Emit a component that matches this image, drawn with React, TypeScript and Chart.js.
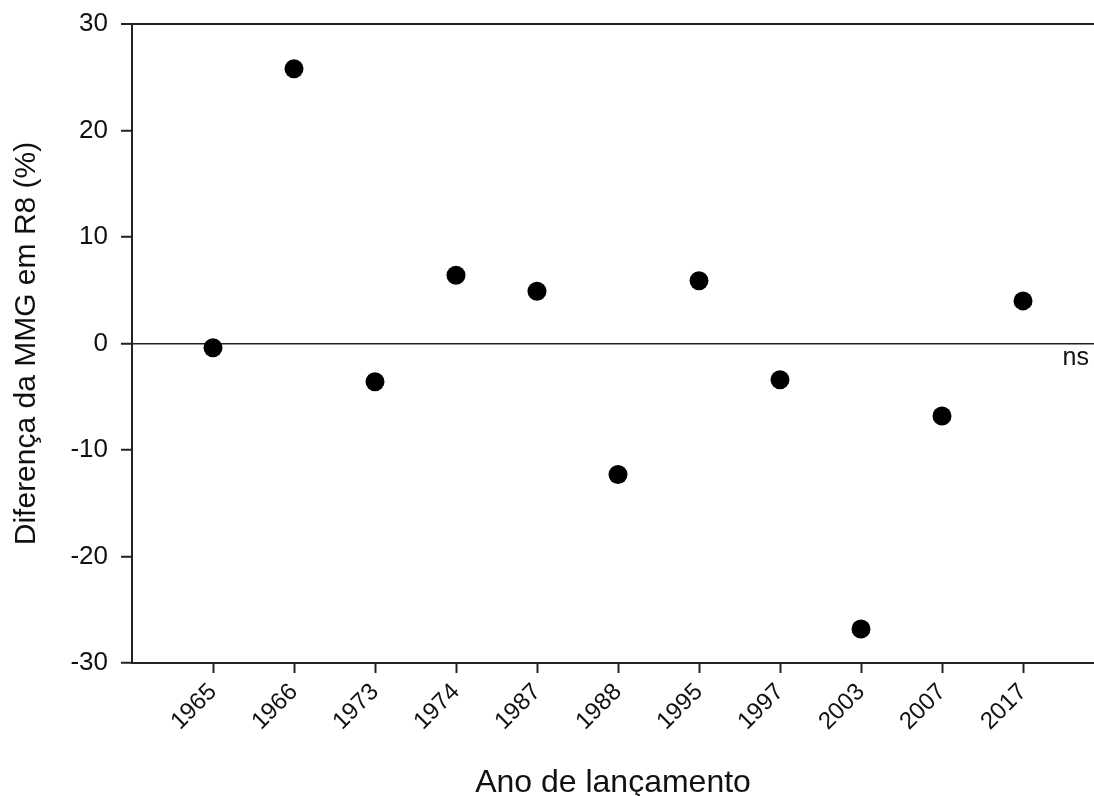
import React, { useEffect, useRef } from "react";
import { Chart, registerables } from "chart.js";

Chart.register(...registerables);

const years = ["1965", "1966", "1973", "1974", "1987", "1988", "1995", "1997", "2003", "2007", "2017"];
const diffValues = [-0.4, 25.8, -3.6, 6.4, 4.9, -12.3, 5.9, -3.4, -26.8, -6.8, 4.0];
const yTicks = [-30, -20, -10, 0, 10, 20, 30];
const xTitle = "Ano de lançamento";
const yTitle = "Diferença da MMG em R8 (%)";
const noteText = "ns";

const FONT = "'Liberation Sans', Arial, sans-serif";

export default function App() {
  const ref = useRef<HTMLCanvasElement | null>(null);

  useEffect(() => {
    if (!ref.current) return;
    const notePlugin = {
      id: "notePlugin",
      afterDraw(chart: any) {
        const { ctx, chartArea, scales } = chart;
        const y0 = scales.y.getPixelForValue(0);
        ctx.save();
        ctx.fillStyle = "#111";
        ctx.font = `25px ${FONT}`;
        ctx.textAlign = "right";
        ctx.textBaseline = "middle";
        ctx.fillText(noteText, chartArea.right - 5, y0 + 15);
        ctx.restore();
      },
    };

    const chart = new Chart(ref.current, {
      type: "scatter",
      data: {
        datasets: [
          {
            data: diffValues.map((v, i) => ({ x: i + 1, y: v })),
            backgroundColor: "#000",
            borderColor: "#000",
            borderWidth: 0,
            pointRadius: 9.5,
            pointHoverRadius: 9.5,
            clip: false,
          },
        ],
      },
      options: {
        responsive: false,
        animation: false,
        layout: { autoPadding: false, padding: { top: 24, right: 0, left: 0, bottom: 0 } },
        plugins: { legend: { display: false }, tooltip: { enabled: false } },
        scales: {
          x: {
            type: "linear",
            min: 0,
            max: (1094 - 132) / 81,
            afterBuildTicks: (scale: any) => {
              scale.ticks = years.map((_, i) => ({ value: i + 1 }));
            },
            afterFit: (scale: any) => {
              scale.height = 133;
              scale.paddingRight = 0;
              scale.paddingLeft = 0;
            },
            ticks: {
              autoSkip: false,
              maxRotation: 45,
              minRotation: 45,
              padding: 5,
              color: "#111",
              font: { family: FONT, size: 24 },
              callback: (_v: any, index: number) => years[index],
            },
            grid: {
              display: true,
              drawOnChartArea: false,
              drawTicks: true,
              tickLength: 10,
              tickColor: "#222",
              tickWidth: 2,
            },
            border: { display: true, color: "#222", width: 2 },
            title: {
              display: true,
              text: xTitle,
              color: "#111",
              font: { family: FONT, size: 32 },
              padding: { top: 0, bottom: -6 },
            },
          },
          y: {
            min: -30,
            max: 30,
            afterBuildTicks: (scale: any) => {
              scale.ticks = yTicks.map((v) => ({ value: v }));
            },
            afterFit: (scale: any) => {
              scale.width = 132;
              scale.paddingTop = 0;
              scale.paddingBottom = 0;
            },
            ticks: {
              padding: 13,
              color: "#111",
              font: { family: FONT, size: 26 },
            },
            grid: {
              display: true,
              drawOnChartArea: true,
              drawTicks: true,
              tickLength: 11,
              tickColor: "#222",
              tickWidth: 2,
              color: (ctx: any) =>
                ctx.tick && (ctx.tick.value === 0 || ctx.tick.value === 30) ? "#222" : "rgba(0,0,0,0)",
              lineWidth: (ctx: any) => (ctx.tick && ctx.tick.value === 30 ? 2 : 1.5),
            },
            border: { display: true, color: "#222", width: 2 },
            title: {
              display: true,
              text: yTitle,
              color: "#111",
              font: { family: FONT, size: 30 },
              padding: { top: 9, bottom: 0 },
            },
          },
        },
      },
      plugins: [notePlugin],
    } as any);
    return () => chart.destroy();
  }, []);

  return (
    <div style={{ position: "absolute", left: 0, top: 0, width: 1094, height: 796, background: "#fff" }}>
      <canvas ref={ref} width={1094} height={796} style={{ display: "block" }} />
    </div>
  );
}
